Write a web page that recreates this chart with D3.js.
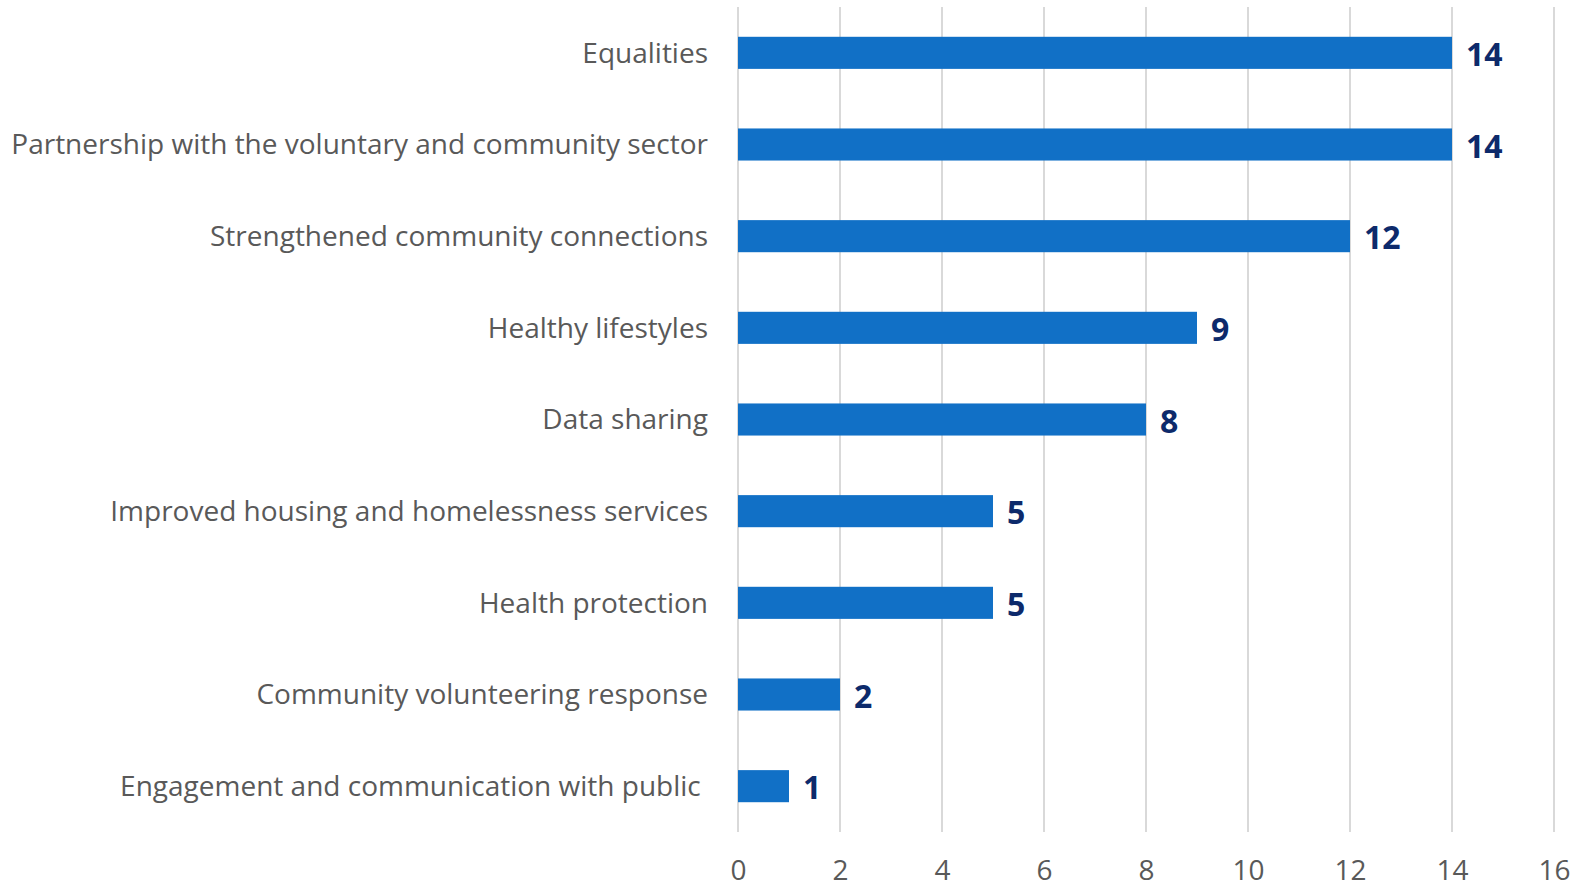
<!DOCTYPE html>
<html>
<head>
<meta charset="utf-8">
<script src="https://cdn.jsdelivr.net/npm/d3@7"></script>
<style>
  body { margin: 0; background: #fff; }
  svg { display: block; }
</style>
</head>
<body>
<div id="chart"></div>
<script>
// categories, top to bottom
const categories = [
    'Equalities',
    'Partnership with the voluntary and community sector',
    'Strengthened community connections',
    'Healthy lifestyles',
    'Data sharing',
    'Improved housing and homelessness services',
    'Health protection',
    'Community volunteering response',
    'Engagement and communication with public '
];
const counts = [14, 14, 12, 9, 8, 5, 5, 2, 1];
const xTicks = [0, 2, 4, 6, 8, 10, 12, 14, 16];

const width = 1572;
const height = 888;
const margin = {top: 7, right: 18, bottom: 56, left: 738};
const font = '"Open Sans", sans-serif';

const svg = d3.select('#chart')
    .append('svg')
        .attr('width', width)
        .attr('height', height);

const x = d3.scaleLinear()
    .domain([0, 16])
    .range([margin.left, width - margin.right]);
const y = d3.scaleBand()
    .domain(categories)
    .range([margin.top, height - margin.bottom])
    .paddingInner(0.65)
    .paddingOuter(0.325);

// gridlines
svg.append('g')
    .selectAll('line')
    .data(xTicks)
    .join('line')
        .attr('x1', d => x(d))
        .attr('x2', d => x(d))
        .attr('y1', margin.top)
        .attr('y2', height - margin.bottom)
        .attr('stroke', '#d9d9d9')
        .attr('stroke-width', 2);

// x axis labels
svg.append('g')
    .attr('transform', `translate(0,${height - margin.bottom})`)
    .call(d3.axisBottom(x).tickValues(xTicks).tickSize(0).tickPadding(28))
    .call(g => g.select('.domain').remove())
    .call(g => g.selectAll('.tick text')
        .attr('fill', '#595959')
        .style('font-family', font)
        .style('font-size', '28px'));

// bars
svg.append('g')
    .selectAll('rect')
    .data(counts)
    .join('rect')
        .attr('x', x(0))
        .attr('y', (d, i) => y(categories[i]))
        .attr('width', d => x(d) - x(0))
        .attr('height', y.bandwidth())
        .attr('fill', '#1170c6');

// category labels
svg.append('g')
    .selectAll('text')
    .data(categories)
    .join('text')
        .attr('x', margin.left - 30)
        .attr('y', d => y(d) + y.bandwidth() / 2)
        .attr('dy', '0.35em')
        .attr('text-anchor', 'end')
        .attr('fill', '#595959')
        .style('white-space', 'pre')
        .style('font-family', font)
        .style('font-size', '28px')
        .text(d => d);

// value labels
svg.append('g')
    .selectAll('text')
    .data(counts)
    .join('text')
        .attr('x', d => x(d) + 14)
        .attr('y', (d, i) => y(categories[i]) + y.bandwidth() / 2 + 2)
        .attr('dy', '0.35em')
        .attr('fill', '#0d2a6b')
        .style('font-family', font)
        .style('font-weight', 'bold')
        .style('font-size', '32px')
        .text(d => d);
</script>
</body>
</html>
